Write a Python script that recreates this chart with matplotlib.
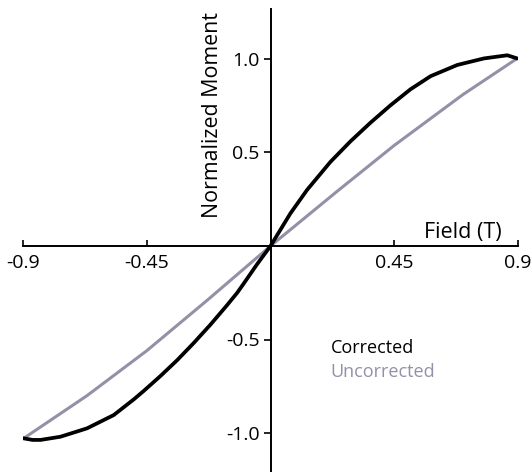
import matplotlib
matplotlib.use("Agg")
import matplotlib.pyplot as plt
import numpy as np

plt.rcParams['font.family'] = ['Open Sans', 'DejaVu Sans']

# Corrected curve
corr_x = [-0.90, -0.865, -0.836, -0.764, -0.667, -0.570, -0.497, -0.461, -0.40, -0.339,
          -0.28, -0.218, -0.16, -0.121, -0.097, -0.05, 0.0, 0.0727, 0.133, 0.218, 0.291,
          0.364, 0.436, 0.509, 0.582, 0.679, 0.776, 0.861, 0.897]
corr_y = [-1.028, -1.037, -1.037, -1.02, -0.975, -0.904, -0.82, -0.775, -0.695, -0.61,
          -0.52, -0.42, -0.32, -0.25, -0.20, -0.10, 0.0, 0.175, 0.30, 0.45, 0.56,
          0.66, 0.752, 0.838, 0.908, 0.968, 1.003, 1.02, 1.003]

# Uncorrected curve
unc_x = [-0.897, -0.667, -0.45, -0.23, 0.0, 0.242, 0.45, 0.70, 0.897]
unc_y = [-1.028, -0.80, -0.56, -0.29, 0.0, 0.292, 0.538, 0.81, 1.003]

xticks = [-0.9, -0.45, 0.45, 0.9]
xticklabels = ['-0.9', '-0.45', '0.45', '0.9']
yticks = [-1.0, -0.5, 0.5, 1.0]
yticklabels = ['-1.0', '-0.5', '0.5', '1.0']

fig = plt.figure(figsize=(5.32, 4.72), dpi=100)
ax = fig.add_axes([23/532, 0.0, 495/532, 463/472])
ax.set_xlim(-0.9, 0.9)
ax.set_ylim(-226/187, 237/187)

unc_color = '#9390a8'
ax.plot(unc_x, unc_y, color=unc_color, lw=2.2, zorder=2, solid_capstyle='round',
        solid_joinstyle='round')
ax.plot(corr_x, corr_y, color='black', lw=2.7, zorder=3, solid_capstyle='round',
        solid_joinstyle='round')

for s in ['top', 'right']:
    ax.spines[s].set_visible(False)
ax.spines['left'].set_position(('data', 0))
ax.spines['bottom'].set_position(('data', 0))
ax.spines['left'].set_linewidth(1.4)
ax.spines['bottom'].set_linewidth(1.4)

ax.set_xticks(xticks)
ax.set_xticklabels(xticklabels)
ax.set_yticks(yticks)
ax.set_yticklabels(yticklabels)
ax.tick_params(axis='x', direction='in', length=4, width=1.2, labelsize=14, pad=6)
ax.tick_params(axis='y', direction='out', length=5, width=1.2, labelsize=14, pad=3)

ax.text(0.70, 0.043, 'Field (T)', fontsize=15.5, ha='center', va='baseline')
ax.text(-0.211, 0.70, 'Normalized Moment', fontsize=15.4, rotation=90, ha='center', va='center')
ax.text(0.218, -0.545, 'Corrected', fontsize=13, color='black', ha='left', va='center')
ax.text(0.218, -0.674, 'Uncorrected', fontsize=13, color=unc_color, ha='left', va='center')

fig.savefig('out.png', dpi=100)
